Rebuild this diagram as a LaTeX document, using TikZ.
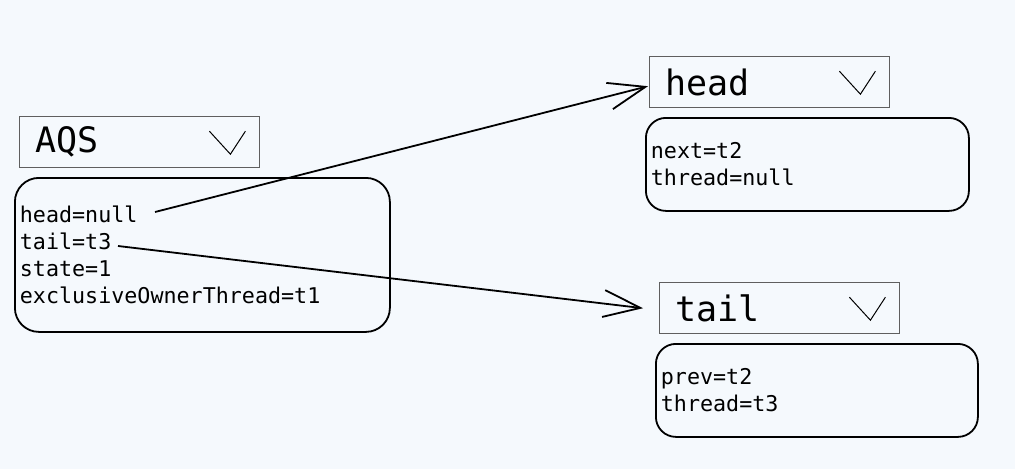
\documentclass[tikz,border=0pt]{standalone}
\usepackage{fontspec}
\setmonofont{DejaVu Sans Mono}
\usetikzlibrary{arrows.meta}
\definecolor{bgcol}{RGB}{245,249,253}
\definecolor{hdrcol}{RGB}{95,95,95}
\tikzset{
	hdr/.style={draw=hdrcol, line width=1.4pt, minimum width=240pt, minimum height=51pt, inner xsep=16pt, text width=208pt, align=left, font=\ttfamily\fontsize{35}{38}\selectfont, anchor=north west},
	body/.style={draw=black, line width=1.8pt, rounded corners=24pt, inner xsep=5pt, align=left, font=\ttfamily\fontsize{21.7}{27}\selectfont, anchor=north west},
	ptr/.style={line width=1.8pt, -{Straight Barb[length=37pt,width=27pt]}}
}
\newcommand{\chev}[1]{\draw[line width=1pt] ([shift={(-51,-11)}]#1.east) -- ([shift={(-30,12)}]#1.east) -- ([shift={(-15,-11)}]#1.east);}

\begin{document}
\begin{tikzpicture}[x=1pt,y=-1pt]
		%%%%% START %%%%%
		\useasboundingbox[fill=bgcol] (0,0) rectangle (1015,469);
		
		% AQS
		\node[hdr] (aqsh) at (19,116) {AQS};
		\chev{aqsh}
		\node[body, text width=365pt, minimum height=154pt] (aqs) at (14,177) {head=null\\tail=t3\\state=1\\exclusiveOwnerThread=t1};
		
		% head
		\node[hdr] (headh) at (649,56) {head};
		\chev{headh}
		\node[body, text width=313pt, minimum height=93pt, rounded corners=20pt] (head) at (645,117) {next=t2\\thread=null};
		
		% tail
		\node[hdr] (tailh) at (659,282) {tail};
		\chev{tailh}
		\node[body, text width=312pt, minimum height=93pt, rounded corners=20pt] (tail) at (655,343) {prev=t2\\thread=t3};
		
		\coordinate (hn) at (155,212);
		\coordinate (tt) at (118,246);
		\draw[ptr] (hn) -- ([shift={(-1,4)}]headh.west);
		\draw[ptr] (tt) -- ([xshift=-16pt]tailh.west);
		%%%%% END %%%%%
	\end{tikzpicture}
\end{document}
